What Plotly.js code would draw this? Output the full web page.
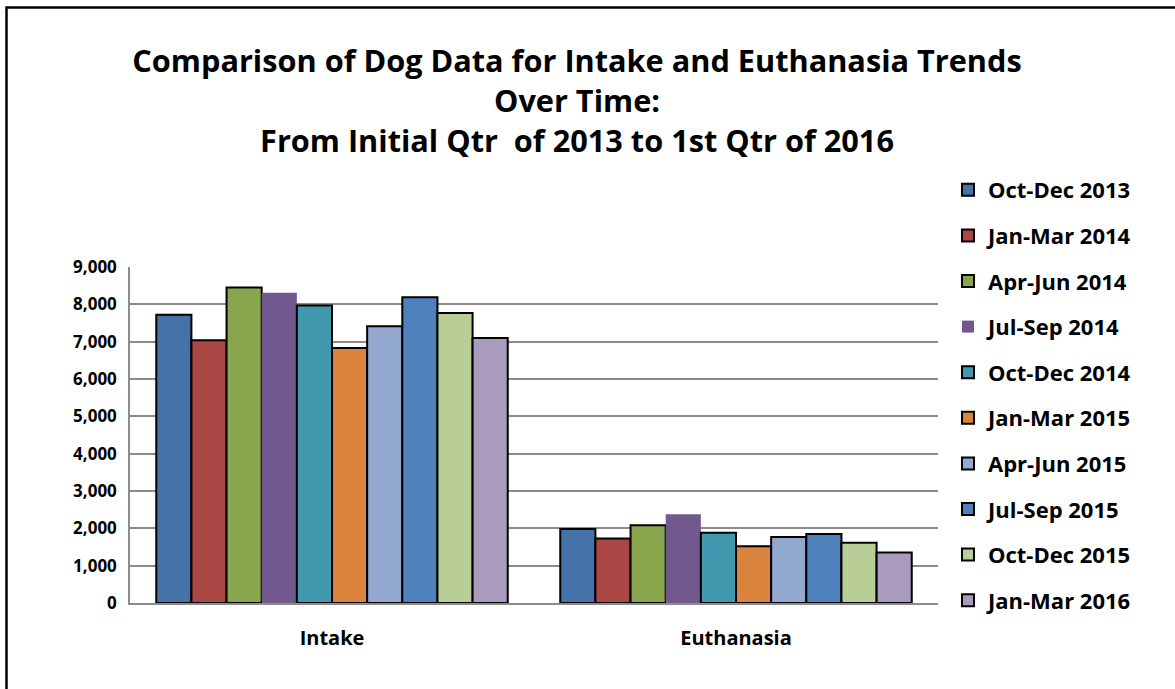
<!DOCTYPE html>
<html>
<head>
<meta charset="utf-8">
<script src="https://cdn.plot.ly/plotly-3.0.1.min.js"></script>
<style>
html,body{margin:0;padding:0;background:#fff;}
#chart{width:1175px;height:689px;}
</style>
</head>
<body>
<div id="chart"></div>
<script>
// Data
const categories = ["Intake", "Euthanasia"];
const quarters = ["Oct-Dec 2013","Jan-Mar 2014","Apr-Jun 2014","Jul-Sep 2014","Oct-Dec 2014",
                  "Jan-Mar 2015","Apr-Jun 2015","Jul-Sep 2015","Oct-Dec 2015","Jan-Mar 2016"];
const intakeValues     = [7720, 7040, 8450, 8310, 7970, 6830, 7410, 8190, 7770, 7100];
const euthanasiaValues = [1985, 1730, 2080, 2375, 1885, 1520, 1765, 1845, 1615, 1350];
const yTickValues = [0,1000,2000,3000,4000,5000,6000,7000,8000,9000];

const colors = ["#4572A7","#AA4643","#89A54E","#71588F","#4198AF",
                "#DB843D","#93A9CF","#4F81BD","#B9CD96","#A99BBD"];
const outlined = [true,true,true,false,true,true,true,true,true,true];

const FONT = "'Open Sans', 'DejaVu Sans', sans-serif";

const traces = quarters.map((q, i) => ({
  type: "bar",
  name: q,
  x: categories,
  y: [intakeValues[i], euthanasiaValues[i]],
  legendgroup: "g" + i,
  marker: {
    color: colors[i],
    line: {color: "#000", width: outlined[i] ? 2 : 0}
  },
  hoverinfo: "name+y"
}));

const W = 1175, H = 689;
const mL = 130, mR = 237, mT = 267, mB = 86;
const pw = W - mL - mR, ph = H - mT - mB;
function px2x(p){ return (p - mL) / pw; }
function py2y(p){ return 1 - (p - mT) / ph; }

const layout = {
  width: W, height: H,
  margin: {l: mL, r: mR, t: mT, b: mB, pad: 0},
  paper_bgcolor: "#fff",
  plot_bgcolor: "#fff",
  font: {family: FONT, color: "#000"},
  title: {
    text: "<b>Comparison of Dog Data for Intake and Euthanasia Trends<br>Over Time:<br>From Initial Qtr  of 2013 to 1st Qtr of 2016</b>",
    font: {family: FONT, size: 30.7, color: "#000", weight: "bold"},
    x: 577 / W, xref: "container", xanchor: "center",
    y: 1 - 72 / H, yref: "container", yanchor: "top"
  },
  barmode: "group",
  bargap: 0.13,
  bargroupgap: 0,
  xaxis: {
    type: "category",
    showgrid: false,
    showline: true, linecolor: "#8c8c8c", linewidth: 2,
    ticks: "",
    tickfont: {family: FONT, size: 20, color: "#000", weight: "bold"},
    ticklabelstandoff: 16,
    zeroline: false
  },
  yaxis: {
    range: [0, 9000],
    tickvals: yTickValues,
    tickformat: ",d",
    showgrid: true, gridcolor: "#8c8c8c", gridwidth: 1.5,
    showline: true, linecolor: "#8c8c8c", linewidth: 1.5,
    zeroline: false,
    ticks: "",
    ticklabelstandoff: 8,
    tickfont: {family: FONT, size: 17, color: "#000", weight: "bold"}
  },
  legend: {
    x: px2x(948), xanchor: "left",
    y: py2y(169), yanchor: "top",
    font: {family: FONT, size: 22, color: "#000", weight: "bold"},
    tracegroupgap: 14,
    itemwidth: 30,
    maxheight: 650,
    traceorder: "grouped",
    bgcolor: "rgba(0,0,0,0)"
  },
  showlegend: true,
  shapes: [{
    type: "rect", xref: "paper", yref: "paper",
    x0: px2x(6.5), x1: px2x(1250),
    y0: py2y(750), y1: py2y(7.5),
    line: {color: "#000", width: 2.5},
    fillcolor: "rgba(0,0,0,0)",
    layer: "above"
  }]
};

Plotly.newPlot("chart", traces, layout, {displayModeBar: false, responsive: false});
</script>
</body>
</html>
